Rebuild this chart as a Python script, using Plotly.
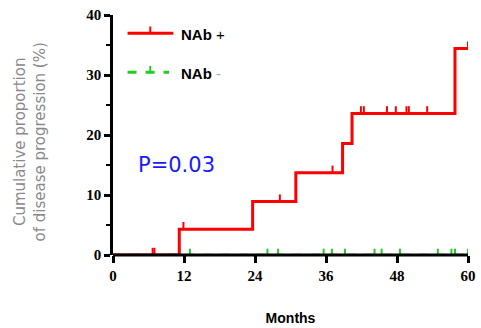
import plotly.graph_objects as go

# ---- data ----
red_months = [0, 11.2, 23.6, 30.9, 38.8, 40.4, 57.8, 60]
red_cum = [0, 4.3, 8.9, 13.7, 18.6, 23.6, 34.4, 34.4]
red_censor = [6.7, 7.0, 11.9, 28.2, 37.1, 41.9, 42.4, 46.3, 47.8, 49.6, 50.0, 53.1, 60]

green_months = [0, 60]
green_cum = [0, 0]
green_censor = [13.0, 26.1, 27.9, 35.6, 37.0, 39.2, 44.2, 45.4, 48.5, 54.9, 57.2, 57.8, 60]

x_ticks = [0, 12, 24, 36, 48, 60]
y_ticks = [0, 10, 20, 30, 40]

RED = "#ff0000"
GREEN = "#22cc22"


def level_at(t, months, cum):
    v = cum[0]
    for m, c in zip(months, cum):
        if m <= t:
            v = c
    return v


fig = go.Figure()

fig.add_trace(go.Scatter(x=green_months, y=green_cum, mode="lines", line_shape="hv",
                         line=dict(color=GREEN, width=2.5, dash="dash"), showlegend=False,
                         cliponaxis=False))
fig.add_trace(go.Scatter(x=red_months, y=red_cum, mode="lines", line_shape="hv",
                         line=dict(color=RED, width=3), showlegend=False, cliponaxis=False))

gy = [level_at(t, green_months, green_cum) for t in green_censor]
fig.add_trace(go.Scatter(x=green_censor, y=gy, mode="markers", marker=dict(size=1, opacity=0),
                         error_y=dict(type="data", symmetric=False, array=[1.05] * len(gy),
                                      arrayminus=[0] * len(gy), width=0, thickness=2, color=GREEN),
                         showlegend=False, cliponaxis=False))
ry = [level_at(t, red_months, red_cum) for t in red_censor]
fig.add_trace(go.Scatter(x=red_censor, y=ry, mode="markers", marker=dict(size=1, opacity=0),
                         error_y=dict(type="data", symmetric=False, array=[1.2] * len(ry),
                                      arrayminus=[0] * len(ry), width=0, thickness=2, color=RED),
                         showlegend=False, cliponaxis=False))

tickfont = dict(family="Liberation Serif", size=15, color="black", weight="bold")

fig.update_xaxes(range=[0, 60], tickvals=x_ticks, ticktext=[str(v) for v in x_ticks],
                 showline=False, ticks="outside", automargin=False, ticklabeloverflow="allow",
                 ticklen=7, tickwidth=2.5, tickcolor="black", showgrid=False, zeroline=False,
                 tickfont=tickfont,
                 title=dict(text="<b>Months</b>", font=dict(family="Liberation Sans", size=14,
                                                            color="black"), standoff=30))
fig.update_yaxes(range=[0, 40], tickvals=y_ticks, ticktext=[str(v) for v in y_ticks],
                 showline=True, linecolor="black", linewidth=2.5, ticks="outside", automargin=False,
                 ticklabeloverflow="allow",
                 ticklen=6, tickwidth=2.5, tickcolor="black", showgrid=False, zeroline=False,
                 tickfont=tickfont,
                 minor=dict(dtick=5, tick0=5, ticks="outside", ticklen=4, tickwidth=2,
                            tickcolor="black", showgrid=False))

# x axis baseline drawn above the traces (covers the zero-level segments)
fig.add_shape(type="line", xref="x", yref="paper", x0=0, x1=60, y0=0, y1=0, layer="above",
              line=dict(color="black", width=3))

# legend (drawn manually)
lx0, lx1, ltick = 0.041, 0.170, 0.105
fig.add_shape(type="line", xref="paper", yref="paper", x0=lx0, x1=lx1, y0=0.924, y1=0.924,
              line=dict(color=RED, width=3))
fig.add_shape(type="line", xref="paper", yref="paper", x0=ltick, x1=ltick, y0=0.924, y1=0.952,
              line=dict(color=RED, width=2))
fig.add_shape(type="line", xref="paper", yref="paper", x0=lx0, x1=0.158, y0=0.761, y1=0.761,
              line=dict(color=GREEN, width=3, dash="dash"))
fig.add_shape(type="line", xref="paper", yref="paper", x0=ltick, x1=ltick, y0=0.761, y1=0.788,
              line=dict(color=GREEN, width=2))
fig.add_annotation(xref="paper", yref="paper", x=0.187, y=0.920, xanchor="left", yanchor="middle",
                   text="<b>NAb</b> +", showarrow=False,
                   font=dict(family="Liberation Sans", size=15, color="black"))
fig.add_annotation(xref="paper", yref="paper", x=0.187, y=0.757, xanchor="left", yanchor="middle",
                   text="<b>NAb</b> <span style='color:#aaaaaa'>-</span>", showarrow=False,
                   font=dict(family="Liberation Sans", size=15, color="black"))

# p-value
fig.add_annotation(xref="paper", yref="paper", x=0.066, y=0.375, xanchor="left", yanchor="middle",
                   text="P=0.03", showarrow=False,
                   font=dict(family="DejaVu Sans", size=21, color="#1a1aff"))

# y title
fig.add_annotation(xref="paper", yref="paper", x=-0.233, y=0.47, xanchor="center", yanchor="middle",
                   text="Cumulative proportion<br>of disease progression (%)", textangle=-90,
                   showarrow=False,
                   font=dict(family="DejaVu Sans", size=15, color="#8a8a8a"))

fig.update_layout(width=481, height=328, margin=dict(l=113, r=13, t=15, b=73),
                  plot_bgcolor="white", paper_bgcolor="white", showlegend=False)

fig.write_html("out.html", config={"displayModeBar": False},
               post_script="document.body.style.margin='0';document.body.style.overflow='hidden';")
